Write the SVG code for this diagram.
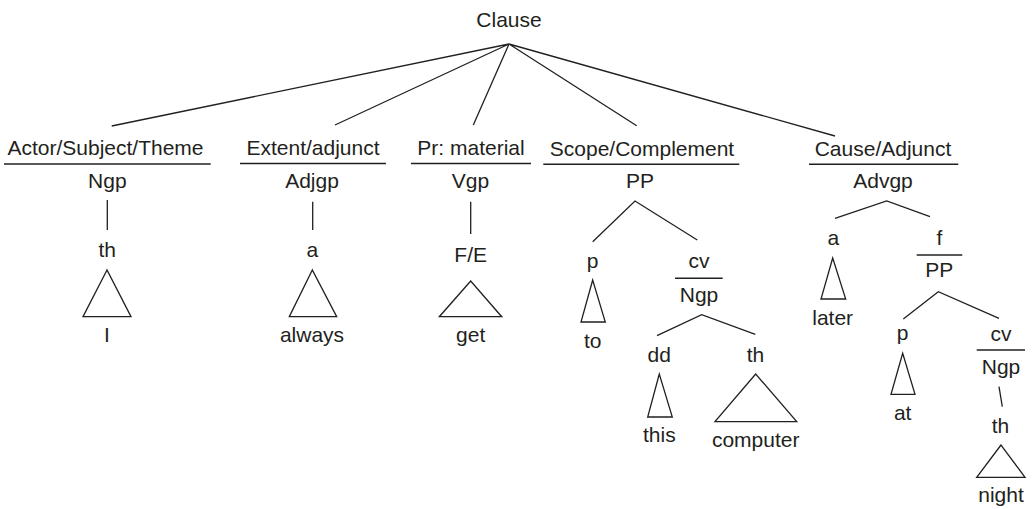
<svg xmlns="http://www.w3.org/2000/svg" width="1033" height="509" viewBox="0 0 1033 509">
<style>
text { font-family: "Liberation Sans", Arial, Helvetica, sans-serif; font-size: 21px; fill: #231f20; text-anchor: middle; }
.ln { stroke: #231f20; stroke-width: 1.3; fill: none; }
.rule { stroke: #231f20; stroke-width: 1.5; fill: none; }
</style>
<rect width="1033" height="509" fill="#ffffff"/>
<g id="connectors">
  <path class="ln" d="M509,44 L111.7,126 M509,44 L335,125 M509,44 L473.3,125 M509,44 L636.7,125.7 M509,44 L835,136"/>
  <path class="ln" d="M107.3,200 V230 M312.7,201.7 V230 M470.7,201.7 V234"/>
  <polygon class="ln" points="107,270 83,316.7 131,316.7"/>
  <polygon class="ln" points="312.3,270 289.3,316.7 336.7,316.7"/>
  <polygon class="ln" points="470.7,281 439.3,316.7 501.7,316.7"/>
  <polyline class="ln" points="592.7,241.7 635,201 697.3,240"/>
  <polygon class="ln" points="592.7,280 581,322 605.3,322"/>
  <polyline class="ln" points="657,335.7 701.7,314.7 755.3,334.3"/>
  <polygon class="ln" points="659.3,374 647.7,417 672.3,417"/>
  <polygon class="ln" points="755.7,374 715,421.7 796.7,421.7"/>
  <polyline class="ln" points="835,218.3 886.7,201 930,216.7"/>
  <polygon class="ln" points="832.7,258 821,299 845.7,299"/>
  <polyline class="ln" points="903.3,319 938.3,291.7 999,318.3"/>
  <polygon class="ln" points="902.7,353.3 891,394.3 915,394.3"/>
  <path class="ln" d="M999,386.7 L1002.3,406.7"/>
  <polygon class="ln" points="1001,445 976.7,477.3 1025,477.3"/>
</g>
<g id="n-clause"><text x="509" y="26.7">Clause</text></g>
<g id="n-actor">
  <text x="105.5" y="155">Actor/Subject/Theme</text>
  <line class="rule" x1="4" y1="164" x2="210.7" y2="164"/>
  <text x="107.3" y="187.7">Ngp</text>
</g>
<g id="n-actor-th"><text x="107.3" y="256.7">th</text></g>
<g id="n-actor-leaf"><text x="107" y="341.7">I</text></g>
<g id="n-extent">
  <text x="313" y="154.5">Extent/adjunct</text>
  <line class="rule" x1="240" y1="163.5" x2="386" y2="163.5"/>
  <text x="312" y="188.3">Adjgp</text>
</g>
<g id="n-extent-a"><text x="312.3" y="256.7">a</text></g>
<g id="n-extent-leaf"><text x="312" y="341.7">always</text></g>
<g id="n-pr">
  <text x="471" y="154.5">Pr: material</text>
  <line class="rule" x1="411" y1="163.5" x2="531" y2="163.5"/>
  <text x="470.5" y="188.3">Vgp</text>
</g>
<g id="n-pr-fe"><text x="470.7" y="261.7">F/E</text></g>
<g id="n-pr-leaf"><text x="470.7" y="341.7">get</text></g>
<g id="n-scope">
  <text x="642" y="155.5">Scope/Complement</text>
  <line class="rule" x1="543.3" y1="164.3" x2="739.3" y2="164.3"/>
  <text x="640" y="188.3">PP</text>
</g>
<g id="n-scope-p"><text x="592.7" y="267.5">p</text></g>
<g id="n-scope-to"><text x="592.7" y="348">to</text></g>
<g id="n-scope-cv">
  <text x="699" y="267.5">cv</text>
  <line class="rule" x1="675" y1="278.3" x2="722.7" y2="278.3"/>
  <text x="699" y="302.3">Ngp</text>
</g>
<g id="n-scope-dd"><text x="659.3" y="362.3">dd</text></g>
<g id="n-scope-this"><text x="659.3" y="442.3">this</text></g>
<g id="n-scope-th"><text x="755.5" y="362.3">th</text></g>
<g id="n-scope-computer"><text x="755.7" y="446.7">computer</text></g>
<g id="n-cause">
  <text x="883" y="155.7">Cause/Adjunct</text>
  <line class="rule" x1="809" y1="164.3" x2="958.3" y2="164.3"/>
  <text x="883" y="188.3">Advgp</text>
</g>
<g id="n-cause-a"><text x="833.3" y="245">a</text></g>
<g id="n-cause-later"><text x="832.7" y="324.5">later</text></g>
<g id="n-cause-f">
  <text x="939.3" y="245">f</text>
  <line class="rule" x1="916.7" y1="255" x2="962.3" y2="255"/>
  <text x="939.3" y="276.7">PP</text>
</g>
<g id="n-cause-p"><text x="902.7" y="340">p</text></g>
<g id="n-cause-at"><text x="902.7" y="420">at</text></g>
<g id="n-cause-cv">
  <text x="1001" y="340.5">cv</text>
  <line class="rule" x1="976.7" y1="350" x2="1025" y2="350"/>
  <text x="1001" y="374">Ngp</text>
</g>
<g id="n-cause-th"><text x="1000.5" y="433.3">th</text></g>
<g id="n-cause-night"><text x="1001" y="501.7">night</text></g>
</svg>
